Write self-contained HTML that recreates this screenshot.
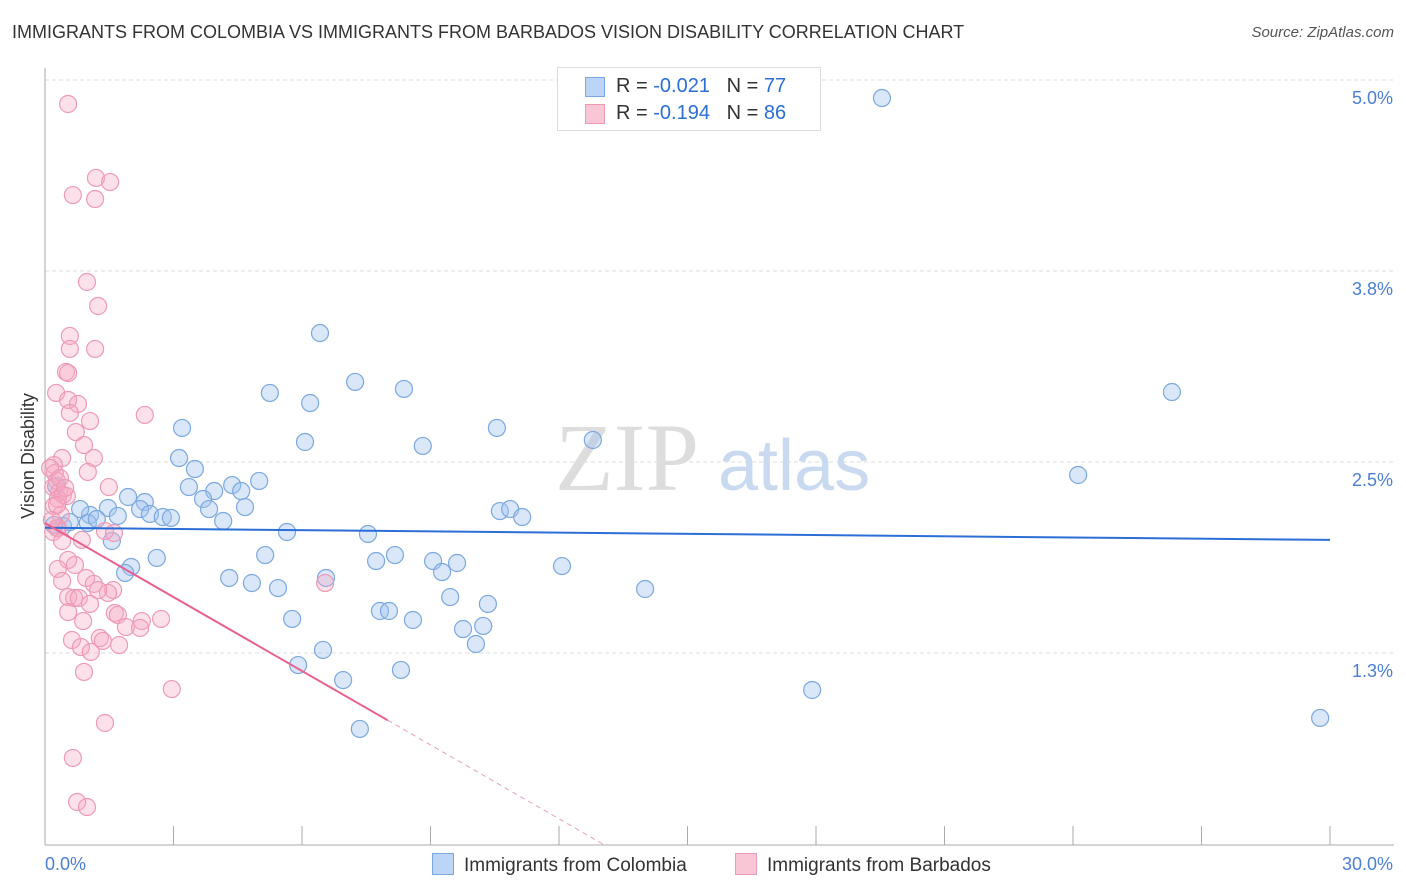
<!DOCTYPE html>
<html><head><meta charset="utf-8"><style>
body{margin:0;background:#fff;font-family:"Liberation Sans",sans-serif;}
#wrap{position:relative;width:1406px;height:892px;overflow:hidden;}
.t{position:absolute;white-space:nowrap;}
</style></head><body>
<div id="wrap">
<div class="t" style="left:12px;top:22px;font-size:18px;color:#333;">IMMIGRANTS FROM COLOMBIA VS IMMIGRANTS FROM BARBADOS VISION DISABILITY CORRELATION CHART</div>
<div class="t" style="right:12px;top:24px;font-size:15px;color:#555;font-style:italic;">Source: ZipAtlas.com</div>
<svg id="svg" width="1406" height="892" style="position:absolute;left:0;top:0"></svg>
</div>
<script>
const yTicks=[5.0,3.75,2.5,1.25];
const yTickLabels=["5.0%","3.8%","2.5%","1.3%"];
const xTickLabels=["0.0%","30.0%"];
const blueX=[],blueY=[],pinkX=[],pinkY=[];
const bluePx=[[882,98],[320,333],[355,382],[404,389],[270,393],[310,403],[1172,392],[182,428],[497,428],[593,440],[305,442],[423,446],[179,458],[195,469],[1078,475],[259,481],[232,485],[189,487],[214,491],[241,491],[203,499],[128,497],[145,502],[140,509],[108,508],[245,507],[209,509],[500,511],[510,509],[522,517],[150,514],[163,517],[171,518],[118,516],[90,515],[80,509],[223,521],[88,523],[63,526],[54,525],[287,532],[368,534],[112,541],[265,555],[395,555],[376,561],[433,561],[457,563],[157,558],[442,572],[131,567],[125,573],[562,566],[229,578],[326,578],[252,583],[278,588],[645,589],[450,597],[380,611],[389,611],[488,604],[292,619],[413,620],[463,629],[483,626],[476,644],[323,650],[298,665],[401,670],[343,680],[812,690],[360,729],[1320,718],[56,486],[70,522],[97,519]];
const pinkPx=[[68,104],[96,178],[110,182],[73,195],[95,199],[87,282],[98,306],[70,336],[70,349],[95,349],[66,372],[68,373],[56,393],[68,400],[78,404],[145,415],[70,413],[90,421],[76,432],[84,445],[62,458],[94,458],[88,472],[54,465],[55,473],[57,481],[53,487],[59,492],[63,495],[67,496],[109,487],[58,499],[54,506],[61,515],[57,528],[53,532],[58,528],[105,531],[62,541],[82,540],[68,560],[58,569],[86,578],[62,581],[94,584],[113,590],[68,597],[74,598],[79,598],[90,604],[108,593],[68,612],[115,613],[83,621],[118,615],[142,621],[126,627],[161,619],[140,628],[72,640],[100,638],[103,641],[119,645],[81,647],[91,652],[84,672],[172,689],[105,723],[73,758],[77,802],[87,807],[325,583],[114,533],[57,505],[50,468],[60,478],[65,488],[52,520],[75,565],[98,590]];
// convert read pixel positions into data values (x in %, y in %)
bluePx.forEach(p=>{blueX.push(+((p[0]-45)/1285*30).toFixed(2));blueY.push(+(5-(p[1]-80)/152.8).toFixed(3));});
pinkPx.forEach(p=>{pinkX.push(+((p[0]-45)/1285*30).toFixed(2));pinkY.push(+(5-(p[1]-80)/152.8).toFixed(3));});
const blueTrend=[2.07,1.99];
const pinkTrend=[2.1,0.81];
const pinkTrendEndX=8.0;
const X=v=>45+v/30*1285, Y=v=>80+(5-v)*152.8;
const svg=document.getElementById('svg');const NS="http://www.w3.org/2000/svg";
function mk(t,a,txt){const e=document.createElementNS(NS,t);for(const k in a)e.setAttribute(k,a[k]);if(txt!=null)e.textContent=txt;svg.appendChild(e);return e;}
yTicks.forEach((v,i)=>{
 const g=mk('line',{x1:45,x2:1394,y1:Y(v),y2:Y(v),stroke:'#ddd','stroke-dasharray':'4,3'});
 
 
 const t=mk('text',{x:1393,y:Y(v)+24,'text-anchor':'end','font-size':18,fill:'#4a7fd4'},yTickLabels[i]);
 
 
});
let ax=mk('line',{x1:45,x2:45,y1:68,y2:845,stroke:'#aaa'});


ax=mk('line',{x1:45,x2:1394,y1:845,y2:845,stroke:'#aaa'});


for(let i=1;i<=10;i++){const l=mk('line',{x1:X(i*3),x2:X(i*3),y1:826,y2:845,stroke:'#aaa'});
 
 }
let tl=mk('text',{x:45,y:870,'font-size':18,fill:'#4a7fd4'},xTickLabels[0]);


tl=mk('text',{x:1393,y:870,'text-anchor':'end','font-size':18,fill:'#4a7fd4'},xTickLabels[1]);


let yt=mk('text',{x:34,y:456,'font-size':18,fill:'#333','text-anchor':'middle',transform:'rotate(-90 34 456)'},'Vision Disability');


let wm=mk('text',{x:555,y:490,'font-size':96,fill:'#ddd','font-family':'Liberation Serif'},'ZIP');


wm=mk('text',{x:718,y:490,'font-size':72,fill:'#c9daf0'},'atlas');


blueX.forEach((x,i)=>{const c=mk('circle',{cx:X(x),cy:Y(blueY[i]),r:8.5,fill:'rgba(160,195,240,0.4)',stroke:'#7aa8e0','stroke-width':1.2});
 
 });
pinkX.forEach((x,i)=>{const c=mk('circle',{cx:X(x),cy:Y(pinkY[i]),r:8.5,fill:'rgba(245,170,195,0.35)',stroke:'#ee9ab5','stroke-width':1.2});
 
 });
let tr=mk('line',{x1:X(0),y1:Y(blueTrend[0]),x2:X(30),y2:Y(blueTrend[1]),stroke:'#2b6fd6','stroke-width':2});


const slope=(pinkTrend[1]-pinkTrend[0])/pinkTrendEndX;
tr=mk('line',{x1:X(0),y1:Y(pinkTrend[0]),x2:X(pinkTrendEndX),y2:Y(pinkTrend[1]),stroke:'#e8608e','stroke-width':2});


const xz=-pinkTrend[0]/slope;
tr=mk('line',{x1:X(pinkTrendEndX),y1:Y(pinkTrend[1]),x2:X(xz),y2:Y(0),stroke:'#e8a0b8','stroke-width':1,'stroke-dasharray':'5,4'});


</script>
<div class="t" style="left:557px;top:67px;width:262px;height:62px;border:1px solid #ddd;background:#fff;font-size:20px;color:#333;">
 <div style="position:absolute;left:27px;top:9px;width:18px;height:18px;background:#bcd4f5;border:1px solid #7aa8e0"></div>
 <div style="position:absolute;left:58px;top:7px">R = <span style="color:#2b6fd6">-0.021</span>&nbsp;&nbsp;&nbsp;N = <span style="color:#2b6fd6">77</span></div>
 <div style="position:absolute;left:27px;top:36px;width:18px;height:18px;background:#f9c6d6;border:1px solid #ee9ab5"></div>
 <div style="position:absolute;left:58px;top:34px">R = <span style="color:#2b6fd6">-0.194</span>&nbsp;&nbsp;&nbsp;N = <span style="color:#2b6fd6">86</span></div>
</div>
<div class="t" style="left:432px;top:853px;font-size:19px;color:#333;"><span style="display:inline-block;width:20px;height:20px;background:#bcd4f5;border:1px solid #7aa8e0;vertical-align:-4px;margin-right:10px"></span>Immigrants from Colombia</div>
<div class="t" style="left:735px;top:853px;font-size:19px;color:#333;"><span style="display:inline-block;width:20px;height:20px;background:#f9c6d6;border:1px solid #ee9ab5;vertical-align:-4px;margin-right:10px"></span>Immigrants from Barbados</div>
</body></html>
